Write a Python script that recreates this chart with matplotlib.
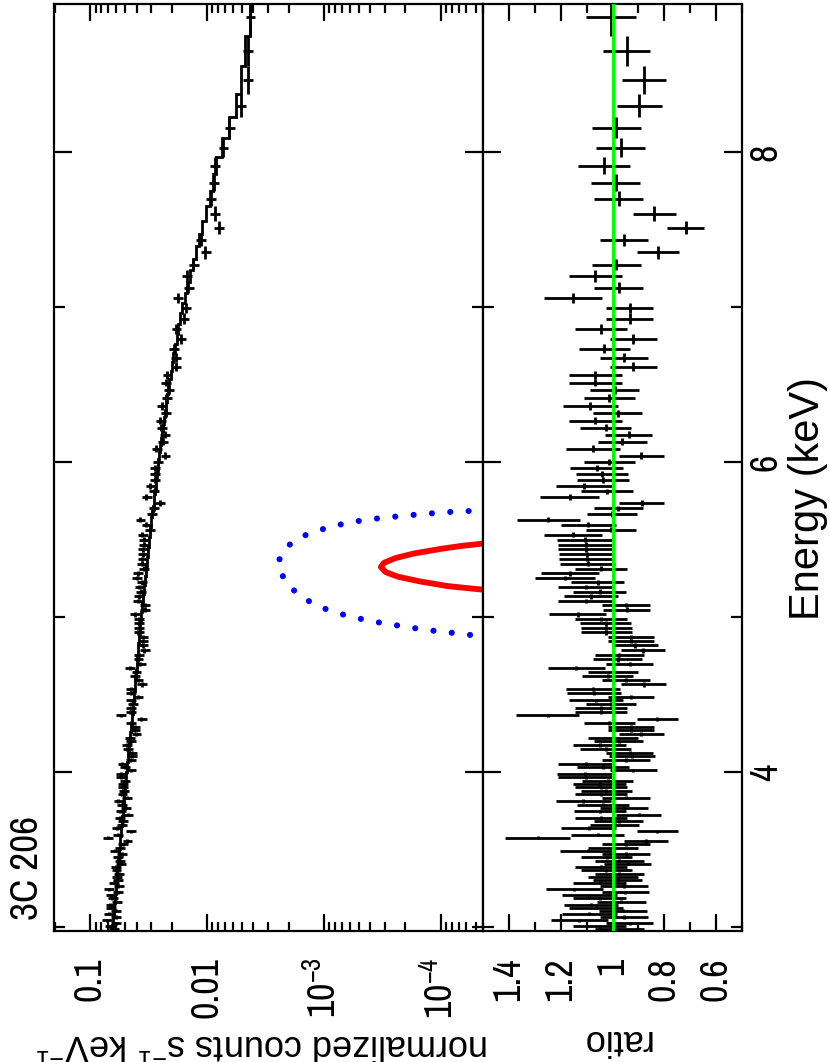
import numpy as np
import matplotlib
matplotlib.use("Agg")
import matplotlib.pyplot as plt
from matplotlib import font_manager as fm
from matplotlib.textpath import TextPath
from matplotlib.ticker import LogLocator, MultipleLocator, NullFormatter

plt.rcParams['font.family'] = ['Liberation Sans', 'DejaVu Sans']

_names = {f.name for f in fm.fontManager.ttflist}
NARROW = 'Liberation Sans'
for _cand in ['Liberation Sans Narrow', 'Arial Narrow', 'Nimbus Sans Narrow', 'Archivo Narrow',
              'Roboto Condensed', 'PT Sans Narrow', 'Encode Sans Condensed',
              'Open Sans Condensed', 'Fira Sans Condensed', 'IBM Plex Sans Condensed']:
    if _cand in _names:
        NARROW = _cand
        break

plt.rcParams['mathtext.fontset'] = 'custom'
plt.rcParams['mathtext.rm'] = NARROW
plt.rcParams['mathtext.it'] = NARROW + ':italic'
plt.rcParams['mathtext.sf'] = NARROW
plt.rcParams['mathtext.default'] = 'regular'


def size_for(text, family, target_px):
    """font size (pt) whose inked length of `text` is target_px at 100 dpi"""
    tp = TextPath((0, 0), text, size=100, prop=fm.FontProperties(family=family))
    w = tp.get_extents().width
    return 100.0 * target_px / (w * 100.0 / 72.0)


# ---------------- data ----------------
title = "3C 206"

# energy bin edges (keV), high to low
bin_edges = [
    9.000, 8.748, 8.555, 8.374, 8.226, 8.090, 7.968, 7.858, 7.748, 7.652,
    7.555, 7.471, 7.394, 7.310, 7.239, 7.161, 7.090, 7.026, 6.961, 6.890,
    6.826, 6.761, 6.703, 6.645, 6.587, 6.535, 6.490, 6.439, 6.387, 6.339,
    6.290, 6.245, 6.200, 6.155, 6.110, 6.065, 6.019, 5.981, 5.942, 5.903,
    5.865, 5.829, 5.794, 5.755, 5.719, 5.684, 5.645, 5.613, 5.581, 5.548,
    5.516, 5.484, 5.452, 5.423, 5.390, 5.361, 5.329, 5.297, 5.268, 5.239,
    5.210, 5.181, 5.148, 5.119, 5.090, 5.065, 5.032, 5.003, 4.974, 4.945,
    4.916, 4.887, 4.858, 4.832, 4.803, 4.771, 4.742, 4.713, 4.687, 4.661,
    4.635, 4.606, 4.581, 4.552, 4.526, 4.500, 4.474,
    4.450, 4.426, 4.402, 4.378, 4.354, 4.330, 4.306, 4.282, 4.258, 4.234,
    4.210, 4.186, 4.162, 4.138, 4.114, 4.090, 4.066,
    4.044, 4.022, 4.000, 3.978, 3.956, 3.934, 3.912, 3.890, 3.868, 3.846,
    3.824, 3.802, 3.780, 3.758, 3.736, 3.714, 3.692,
    3.671, 3.650, 3.629, 3.608, 3.587, 3.566, 3.545, 3.524, 3.503, 3.482,
    3.461, 3.440, 3.419, 3.398, 3.377, 3.356, 3.335,
    3.315, 3.295, 3.275, 3.255, 3.235, 3.215, 3.195, 3.175, 3.155, 3.135,
    3.115, 3.095, 3.075, 3.055, 3.035, 3.015, 2.995, 2.975,
]

# folded model, normalized counts s^-1 keV^-1 per bin
model_counts = [
    0.00424, 0.00471, 0.00509, 0.00569, 0.00653, 0.00748, 0.00830, 0.00889, 0.00948, 0.01028,
    0.01109, 0.01180, 0.01250, 0.01324, 0.01400, 0.01479, 0.01552, 0.01626, 0.01690, 0.01754,
    0.01816, 0.01875, 0.01936, 0.01991, 0.02051, 0.02099, 0.02148, 0.02198, 0.02249, 0.02301,
    0.02350, 0.02393, 0.02438, 0.02477, 0.02518, 0.02559, 0.02600, 0.02636, 0.02673, 0.02716,
    0.02754, 0.02786, 0.02825, 0.02864, 0.02904, 0.02944, 0.02985, 0.03020, 0.03055, 0.03090,
    0.03126, 0.03155, 0.03192, 0.03221, 0.03258, 0.03289, 0.03327, 0.03357, 0.03388, 0.03420,
    0.03443, 0.03483, 0.03516, 0.03548, 0.03573, 0.03606, 0.03656, 0.03681, 0.03715, 0.03741,
    0.03776, 0.03802, 0.03837, 0.03864, 0.03890, 0.03926, 0.03954, 0.03981, 0.04009, 0.04036,
    0.04064, 0.04093, 0.04121, 0.04159, 0.04188, 0.04217, 0.04236, 0.04276, 0.04305, 0.04335,
    0.04365, 0.04406, 0.04426, 0.04457, 0.04498, 0.04529, 0.04560, 0.04592, 0.04634, 0.04667,
    0.04699, 0.04742, 0.04775, 0.04808, 0.04842, 0.04875, 0.04909, 0.04943, 0.04966, 0.05000,
    0.05035, 0.05070, 0.05093, 0.05129, 0.05152, 0.05188, 0.05224, 0.05248, 0.05284, 0.05321,
    0.05346, 0.05383, 0.05408, 0.05445, 0.05470, 0.05508, 0.05534, 0.05572, 0.05598, 0.05636,
    0.05675, 0.05702, 0.05728, 0.05768, 0.05794, 0.05834, 0.05861, 0.05902, 0.05929, 0.05970,
    0.05998, 0.06039, 0.06067, 0.06095, 0.06138, 0.06166, 0.06209, 0.06237, 0.06266, 0.06310,
    0.06339, 0.06383, 0.06412, 0.06442, 0.06486,
]

# data / model ratio per bin
ratio = [
    1.005, 0.945, 0.878, 0.896, 0.985, 0.969, 1.034, 0.988, 0.975, 0.838,
    0.718, 0.955, 0.824, 0.985, 1.066, 0.975, 1.151, 0.934, 0.934, 1.045,
    0.919, 1.031, 0.954, 0.919, 1.066, 1.066, 0.992, 1.012,
    1.085, 0.980, 1.066, 1.027, 0.938, 0.962, 1.074, 0.889, 1.012, 1.061,
    1.041, 1.035, 1.111, 1.021, 1.166, 0.887, 0.977, 1.003, 1.248, 1.093,
    1.005, 1.154, 1.108, 1.104, 1.104, 1.099, 1.099, 1.096, 1.044, 1.164,
    1.183, 1.057, 1.102, 1.050, 1.082, 1.102, 0.947, 0.945, 1.134, 1.044,
    1.027, 1.024, 1.024, 0.928, 0.928, 0.915, 0.883, 0.973, 0.980, 0.934,
    1.140, 0.999, 1.018, 0.947, 0.880, 1.076, 1.070, 0.928,
    1.063, 1.005, 1.044, 1.044, 1.250, 0.827, 1.012, 0.928, 0.928, 0.889,
    0.999, 0.976, 1.050, 1.027, 0.934, 0.924, 0.947, 1.104, 1.037, 0.919,
    1.108, 1.102, 1.018, 1.050, 1.044, 1.024, 1.044, 0.947, 1.112, 1.035,
    0.957, 1.048, 0.898, 1.044, 0.976, 0.992, 1.092, 0.827, 1.057, 1.289,
    0.870, 0.947, 0.999, 1.096, 0.947, 1.022, 0.973, 0.941, 1.044, 1.024,
    0.973, 0.999, 0.980, 1.050, 0.954, 1.147, 0.950, 1.089, 1.050, 0.966,
    1.082, 1.063, 0.960, 1.089, 0.954, 1.128, 0.934, 1.050, 0.973,
]
rel_err = 0.097   # relative 1-sigma error of each grouped bin

# confidence contours of a narrow line (energy vs normalization)
red_E = [5.477, 5.460, 5.440, 5.410, 5.380, 5.350, 5.323, 5.290, 5.260, 5.230, 5.200, 5.174]
red_N = [4.0e-5, 6.5e-5, 1.0e-4, 1.7e-4, 2.45e-4, 3.05e-4, 3.24e-4, 2.95e-4, 2.3e-4, 1.5e-4,
         8.7e-5, 4.0e-5]
blue_E = [5.690, 5.677, 5.658, 5.639, 5.613, 5.574, 5.529, 5.477, 5.413, 5.335,
          5.226, 5.142, 5.077, 5.032, 5.000, 4.974, 4.955, 4.935, 4.916, 4.903, 4.890, 4.871]
blue_N = [4.0e-5, 9.0e-5, 1.79e-4, 3.27e-4, 5.9e-4, 9.6e-4, 1.43e-3, 1.9e-3, 2.3e-3, 2.48e-3,
          2.12e-3, 1.64e-3, 1.17e-3, 8.2e-4, 5.64e-4, 3.95e-4, 2.77e-4, 1.9e-4, 1.28e-4, 9.0e-5,
          6.3e-5, 4.0e-5]

count_ticks = [0.1, 0.01, 1e-3, 1e-4]
count_ticklabels = ['0.1', '0.01', r'10$^{-3}$', r'10$^{-4}$']
ratio_ticks = [1.4, 1.2, 1.0, 0.8, 0.6]
ratio_ticklabels = ['1.4', '1.2', '1', '0.8', '0.6']
energy_ticks = [4, 6, 8]
energy_ticklabels = ['4', '6', '8']

# ---------------- derived arrays ----------------
edges = np.array(bin_edges)
model = np.array(model_counts)
rat = np.array(ratio)
centers = 0.5 * (edges[:-1] + edges[1:])
halfw = 0.5 * np.abs(np.diff(edges))
counts = model * rat

TICK_SIZE = min(28.0, size_for('0.01', NARROW, 59))
TITLE_SIZE = min(29.0, size_for('3C 206', NARROW, 101))

# ---------------- figure ----------------
W, H = 830, 1062
fig = plt.figure(figsize=(W / 100, H / 100), dpi=100)
L, D, R = 54 / W, 483 / W, 742 / W
B, T = 1 - 931 / H, 1 - 4 / H
ax1 = fig.add_axes([L, B, D - L, T - B])
ax2 = fig.add_axes([D, B, R - D, T - B], sharey=ax1)

lw = 2.0
# spectrum panel
ax1.stairs(model, edges, orientation='horizontal', baseline=None, color='k', lw=lw)
ax1.errorbar(counts, centers, xerr=counts * rel_err, yerr=halfw, fmt='none',
             ecolor='k', elinewidth=lw, capsize=0)
ax1.plot(red_N, red_E, color='red', lw=4.2, solid_capstyle='round',
         solid_joinstyle='round', zorder=5)
ax1.plot(blue_N, blue_E, color='blue', lw=4.4, linestyle=(0, (0.01, 3.0)),
         dash_capstyle='round', zorder=5)
ax1.set_xscale('log')
ax1.set_xlim(0.204, 4.33e-5)
ax1.set_ylim(2.975, 8.955)

# ratio panel
ax2.errorbar(rat, centers, xerr=rat * rel_err, yerr=halfw, fmt='none',
             ecolor='k', elinewidth=lw, capsize=0)
ax2.axvline(1.0, color='#00ff00', lw=2.2, zorder=6)
ax2.set_xlim(1.5, 0.5)

# ticks
for ax in (ax1, ax2):
    ax.tick_params(which='both', direction='in', top=True, bottom=True,
                   left=True, right=True, width=1.6, color='k')
    ax.tick_params(axis='x', which='major', length=12.5)
    ax.tick_params(axis='x', which='minor', length=6.5)
    ax.tick_params(axis='y', which='major', length=13)
    ax.tick_params(axis='y', which='minor', length=8)
    for s in ax.spines.values():
        s.set_linewidth(1.6)

ax1.set_xticks(count_ticks, labels=count_ticklabels)
ax1.xaxis.set_minor_locator(LogLocator(base=10, subs=np.arange(2, 10), numticks=20))
ax1.xaxis.set_minor_formatter(NullFormatter())
ax2.set_xticks(ratio_ticks, labels=ratio_ticklabels)
ax2.xaxis.set_minor_locator(MultipleLocator(0.1))
ax1.set_yticks(energy_ticks, labels=energy_ticklabels)
ax1.yaxis.set_minor_locator(MultipleLocator(1))

for ax in (ax1, ax2):
    ax.tick_params(axis='x', labelsize=TICK_SIZE, labelrotation=90, pad=19)
    for t in ax.get_xticklabels():
        t.set_fontfamily([NARROW, 'DejaVu Sans'])
ax1.tick_params(axis='y', labelleft=False, labelright=False)
ax2.tick_params(axis='y', labelleft=False, labelright=True, labelsize=TICK_SIZE,
                labelrotation=90, pad=5)
for t in ax2.get_yticklabels():
    t.set_va('center')
    t.set_fontfamily([NARROW, 'DejaVu Sans'])

# texts
fig.text(28 / W, 1 - 868 / H, title, rotation=90, ha='center', va='center',
         fontsize=TITLE_SIZE, family=[NARROW, 'DejaVu Sans'])
fig.text(808 / W, 1 - 498 / H, 'Energy (keV)', rotation=90, ha='center', va='center',
         fontsize=30, family=['Liberation Sans', 'DejaVu Sans'])
fig.text(262 / W, 1 - 1044 / H, r'normalized counts s$^{-1}$ keV$^{-1}$', rotation=180,
         ha='center', va='center', fontsize=26, family=['Liberation Sans', 'DejaVu Sans'],
         math_fontfamily='custom')
fig.text(615 / W, 1 - 1039 / H, 'ratio', rotation=180, ha='center', va='center', fontsize=26,
         family=['Liberation Sans', 'DejaVu Sans'])

fig.savefig('out.png', dpi=100)
